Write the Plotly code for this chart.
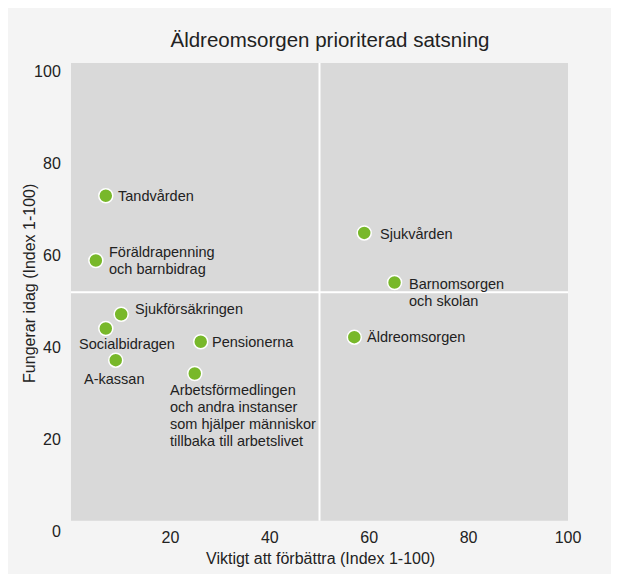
import plotly.graph_objects as go

# ---- data ----
categories = [
    "Tandvården",
    "Föräldrapenning<br>och barnbidrag",
    "Sjukförsäkringen",
    "Socialbidragen",
    "A-kassan",
    "Pensionerna",
    "Arbetsförmedlingen<br>och andra instanser<br>som hjälper människor<br>tillbaka till arbetslivet",
    "Sjukvården",
    "Barnomsorgen<br>och skolan",
    "Äldreomsorgen",
]
viktigt = [7.0, 5.0, 10.1, 7.0, 9.0, 26.1, 24.9, 59.0, 65.1, 57.0]
fungerar = [73.0, 58.9, 47.2, 44.1, 37.2, 41.2, 34.3, 64.9, 54.1, 42.2]
x_ticks = [20, 40, 60, 80, 100]
y_ticks = [0, 20, 40, 60, 80, 100]
x_split = 50
y_split = 52

title_text = "Äldreomsorgen prioriterad satsning"
x_title = "Viktigt att förbättra (Index 1-100)"
y_title = "Fungerar idag (Index 1-100)"

# ---- label placement (style only): xanchor, xshift px, yshift px of first line ----
label_style = [
    ("left", 11, 0),
    ("left", 12, 8),
    ("left", 13, 5),
    ("center", 21, -16),
    ("center", -2, -19),
    ("left", 10, 0),
    ("left", -26, -17),
    ("left", 15, -1),
    ("left", 13, -1),
    ("left", 12, 0),
]
LINE_GAP = 17

FONT = "Liberation Sans, Arial, sans-serif"
TEXT = "#222222"
PANEL = "#f4f4f4"
PLOTGRAY = "#d9d9d9"
GREEN = "#78b82a"

fig = go.Figure()
fig.add_trace(go.Scatter(
    x=viktigt, y=fungerar, mode="markers",
    marker=dict(size=14, color=GREEN, line=dict(color="white", width=1.5)),
    text=[c.replace("<br>", " ") for c in categories],
    hoverinfo="text", showlegend=False, cliponaxis=False,
))

annotations = []
for cat, xv, yv, (xa, xs, ys) in zip(categories, viktigt, fungerar, label_style):
    for i, line in enumerate(cat.split("<br>")):
        annotations.append(dict(
            x=xv, y=yv, xref="x", yref="y", text=line, showarrow=False,
            xanchor=xa, yanchor="middle", xshift=xs, yshift=ys - i * LINE_GAP,
            borderpad=0, font=dict(family=FONT, size=14.5, color=TEXT),
        ))

# axis titles
annotations.append(dict(
    x=-0.0835, y=0.529, xref="paper", yref="paper", text=y_title,
    textangle=-90, showarrow=False, xanchor="center", yanchor="middle",
    font=dict(family=FONT, size=16, color=TEXT),
))
annotations.append(dict(
    x=0.503, y=-0.0577, xref="paper", yref="paper", text=x_title,
    showarrow=False, xanchor="center", yanchor="middle",
    font=dict(family=FONT, size=16, color=TEXT),
))

shapes = [
    # gray plot region
    dict(type="rect", xref="x", yref="y", x0=0, x1=100, y0=2.24, y1=101.9,
         fillcolor=PLOTGRAY, line=dict(width=0), layer="below"),
    # quadrant dividers
    dict(type="line", xref="x", yref="y", x0=x_split, x1=x_split, y0=2.24, y1=101.9,
         line=dict(color="white", width=2), layer="below"),
    dict(type="line", xref="x", yref="y", x0=0, x1=100, y0=y_split, y1=y_split,
         line=dict(color="white", width=2), layer="below"),
]

fig.update_layout(
    width=603, height=566,
    margin=dict(l=63, r=43, t=55, b=43, autoexpand=False),
    paper_bgcolor=PANEL, plot_bgcolor=PANEL,
    font=dict(family=FONT, color=TEXT),
    title=dict(text=title_text, x=0.534, xref="container", xanchor="center",
               y=1 - 32 / 566, yref="container", yanchor="middle",
               font=dict(family=FONT, size=20.5, color=TEXT)),
    xaxis=dict(range=[0, 100], tickvals=x_ticks, showgrid=False, zeroline=False,
               showline=False, ticks="", ticklabelstandoff=-5,
               tickfont=dict(family=FONT, size=16, color=TEXT)),
    yaxis=dict(range=[0, 101.9], tickvals=y_ticks, showgrid=False, zeroline=False,
               showline=False, ticks="outside", ticklen=6, tickcolor="rgba(0,0,0,0)",
               tickfont=dict(family=FONT, size=16, color=TEXT)),
    annotations=annotations,
    shapes=shapes,
)

fig.write_html("out.html")
